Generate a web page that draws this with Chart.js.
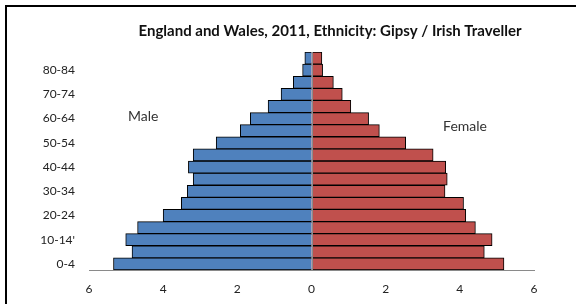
<!DOCTYPE html>
<html>
<head>
<meta charset="utf-8">
<script src="https://cdn.jsdelivr.net/npm/chart.js@4.4.1/dist/chart.umd.min.js"></script>
<style>
  html, body { margin: 0; padding: 0; background: #fff; overflow: hidden; }
  #wrap { position: relative; width: 576px; height: 304px; }
  #frame { position: absolute; left: 5px; top: 5px; width: 700px; height: 400px;
           border-left: 2px solid #000; border-top: 2px solid #000; pointer-events: none; }
  canvas { position: absolute; left: 0; top: 0; }
</style>
</head>
<body>
<div id="wrap">
  <canvas id="c" width="576" height="304"></canvas>
  <div id="frame"></div>
</div>
<script>
const titleText = 'England and Wales, 2011, Ethnicity: Gipsy / Irish Traveller';
const ageGroups = ['0-4', '5-9', "10-14'", '15-19', '20-24', '25-29', '30-34', '35-39', '40-44',
                   '45-49', '50-54', '55-59', '60-64', '65-69', '70-74', '75-79', '80-84', '85+'];
const maleValues = [5.34, 4.84, 5.01, 4.69, 4.00, 3.51, 3.35, 3.19, 3.32,
                    3.19, 2.57, 1.92, 1.65, 1.17, 0.82, 0.49, 0.24, 0.18];
const femaleValues = [5.19, 4.66, 4.87, 4.42, 4.16, 4.10, 3.60, 3.66, 3.62,
                      3.28, 2.54, 1.83, 1.54, 1.06, 0.83, 0.59, 0.30, 0.28];
const xTickValues = [-6, -4, -2, 0, 2, 4, 6];

const extras = {
  id: 'extras',
  afterDatasetsDraw(chart) {
    const ctx = chart.ctx;
    const xs = chart.scales.x, ys = chart.scales.y;
    const a = chart.chartArea;
    ctx.save();
    // zero line
    const x0 = Math.round(xs.getPixelForValue(0)) + 0.5;
    ctx.strokeStyle = '#8a8a8a';
    ctx.lineWidth = 1;
    ctx.beginPath();
    ctx.moveTo(x0, a.top);
    ctx.lineTo(x0, a.bottom);
    ctx.stroke();
    // series labels
    ctx.fillStyle = '#333';
    ctx.font = '14px Lato, "Liberation Sans", sans-serif';
    ctx.textAlign = 'center';
    ctx.textBaseline = 'middle';
    ctx.fillText('Male', xs.getPixelForValue(-4.54), ys.getPixelForValue(12.2));
    ctx.fillText('Female', xs.getPixelForValue(4.14), ys.getPixelForValue(11.35));
    // title
    ctx.fillStyle = '#111';
    ctx.font = 'bold 15px Lato, "Liberation Sans", sans-serif';
    ctx.fillText(titleText, 330, 31);
    ctx.restore();
  }
};

new Chart(document.getElementById('c'), {
  type: 'bar',
  data: {
    labels: ageGroups,
    datasets: [
      {
        label: 'Male',
        data: maleValues.map(v => -v),
        backgroundColor: '#4F81BD',
        borderColor: '#000',
        borderWidth: 1
      },
      {
        label: 'Female',
        data: femaleValues,
        backgroundColor: '#C0504D',
        borderColor: '#000',
        borderWidth: 1
      }
    ]
  },
  options: {
    indexAxis: 'y',
    responsive: false,
    animation: false,
    devicePixelRatio: 1,
    layout: { padding: { left: 0, right: 42, top: 52, bottom: 0 } },
    plugins: {
      legend: { display: false },
      title: { display: false },
      tooltip: { enabled: false }
    },
    datasets: { bar: { barPercentage: 1, categoryPercentage: 1 } },
    scales: {
      x: {
        stacked: true,
        min: -6, max: 6,
        afterBuildTicks(scale) { scale.ticks = xTickValues.map(v => ({ value: v })); },
        afterFit(scale) { scale.height = 34; },
        grid: { display: false, drawTicks: false },
        border: { display: true, color: '#8a8a8a', width: 1 },
        ticks: {
          padding: 12,
          color: '#222',
          font: { family: 'Lato, "Liberation Sans", sans-serif', size: 12 },
          callback: v => String(Math.abs(v))
        }
      },
      y: {
        stacked: true,
        reverse: true,
        afterFit(scale) { scale.width = 89; },
        grid: { display: false, drawTicks: false },
        border: { display: false },
        ticks: {
          autoSkip: false,
          padding: 14,
          color: '#222',
          font: { family: 'Lato, "Liberation Sans", sans-serif', size: 12 },
          callback: (v, i) => (i % 2 === 0 ? ageGroups[i] : '')
        }
      }
    }
  },
  plugins: [extras]
});
</script>
</body>
</html>
